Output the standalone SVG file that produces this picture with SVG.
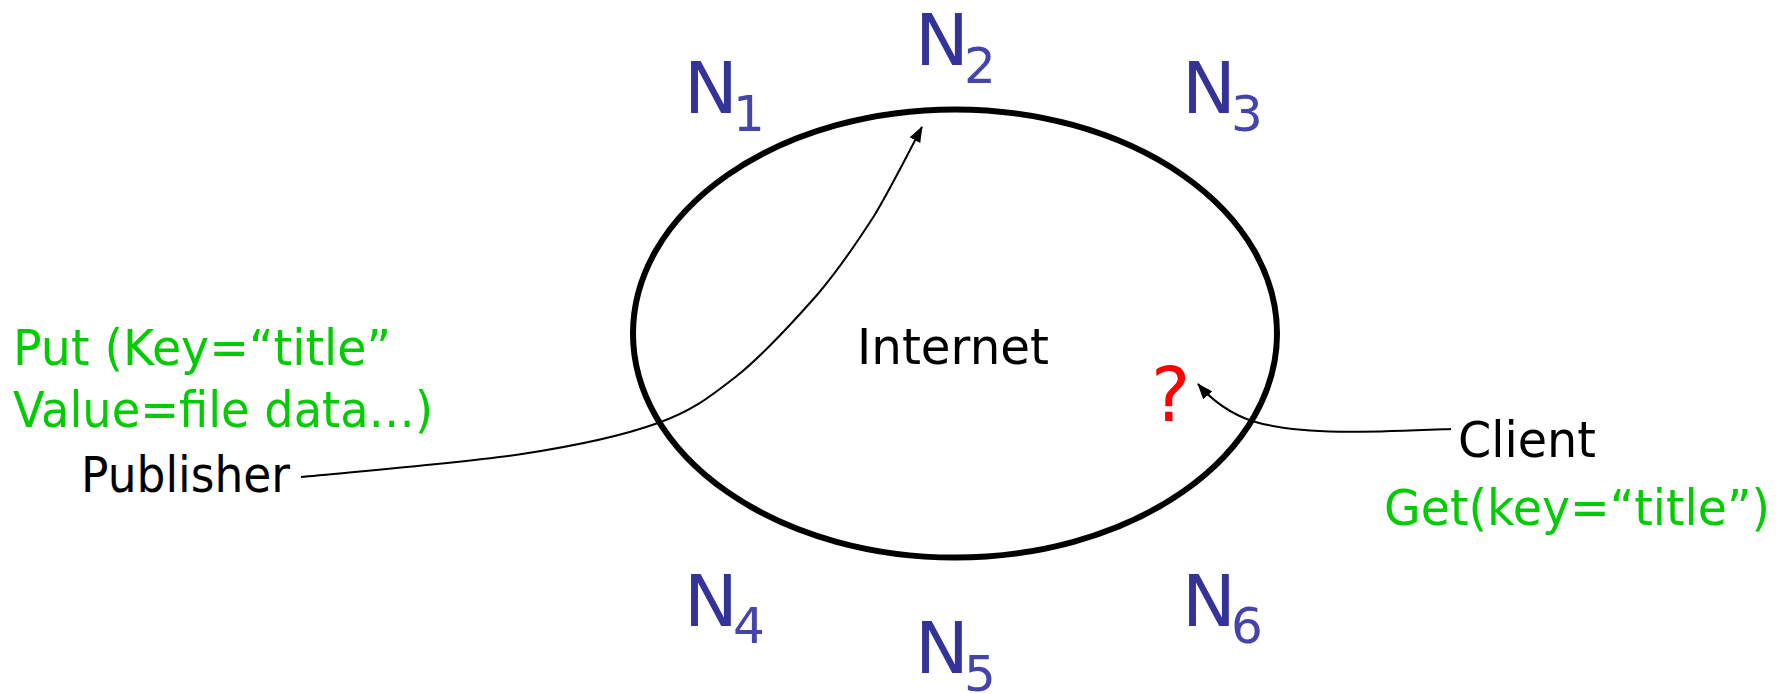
<svg xmlns="http://www.w3.org/2000/svg" width="1780" height="694" viewBox="0 0 1780 694">
<style>
text{font-family:"DejaVu Sans","Liberation Sans",sans-serif}
.n{font-size:72px;fill:#333399}
.sub{font-size:50px;fill:#4444aa}
.lbl{font-size:50px;fill:#000000}
.grn{font-size:50px;fill:#00cc00}
.q{font-size:74px;fill:#ff0000}
.conn{fill:none;stroke:#000000;stroke-width:2}
</style>
<defs>
<marker id="arrow" markerUnits="userSpaceOnUse" markerWidth="16" markerHeight="12" viewBox="0 0 16 12" refX="15" refY="6" orient="auto">
<path d="M0,0 L16,6 L0,12 z" fill="#000000"/>
</marker>
</defs>
<rect width="1780" height="694" fill="#ffffff"/>
<g id="internet">
<ellipse cx="955" cy="333.5" rx="322" ry="224" fill="none" stroke="#000000" stroke-width="6"/>
<text class="lbl" x="857" y="364" textLength="192" lengthAdjust="spacingAndGlyphs">Internet</text>
</g>
<g id="n1"><text class="n" x="684" y="113">N<tspan class="sub" x="733" y="131">1</tspan></text></g>
<g id="n2"><text class="n" x="915" y="65">N<tspan class="sub" x="964" y="83">2</tspan></text></g>
<g id="n3"><text class="n" x="1182" y="113">N<tspan class="sub" x="1231" y="131">3</tspan></text></g>
<g id="n4"><text class="n" x="684" y="626">N<tspan class="sub" x="733" y="643">4</tspan></text></g>
<g id="n5"><text class="n" x="915" y="673">N<tspan class="sub" x="964" y="691">5</tspan></text></g>
<g id="n6"><text class="n" x="1182" y="626">N<tspan class="sub" x="1231" y="643">6</tspan></text></g>
<g id="unknown"><text class="q" x="1151" y="421">?</text></g>
<g id="publisher">
<text class="grn" x="13" y="365" textLength="378" lengthAdjust="spacingAndGlyphs">Put (Key=“title”</text>
<text class="grn" x="13" y="427" textLength="420" lengthAdjust="spacingAndGlyphs">Value=file data…)</text>
<text class="lbl" x="81" y="492" textLength="209" lengthAdjust="spacingAndGlyphs">Publisher</text>
</g>
<g id="client">
<text class="lbl" x="1458" y="457" textLength="138" lengthAdjust="spacingAndGlyphs">Client</text>
<text class="grn" x="1384" y="525" textLength="386" lengthAdjust="spacingAndGlyphs">Get(key=“title”)</text>
</g>
<g id="connectors">
<path class="conn" marker-end="url(#arrow)" d="M301,477 C338,473 462,463 522,454 C581,445 622,436 658,423 C694,410 711,396 738,375 C764,354 794,321 817,295 C840,268 856,244 874,216 C891,188 914,142 922,127"/>
<path class="conn" marker-end="url(#arrow)" d="M1451,429 C1380,432 1300,436 1252,421 C1226,412 1210,398 1198,384"/>
</g>
</svg>
